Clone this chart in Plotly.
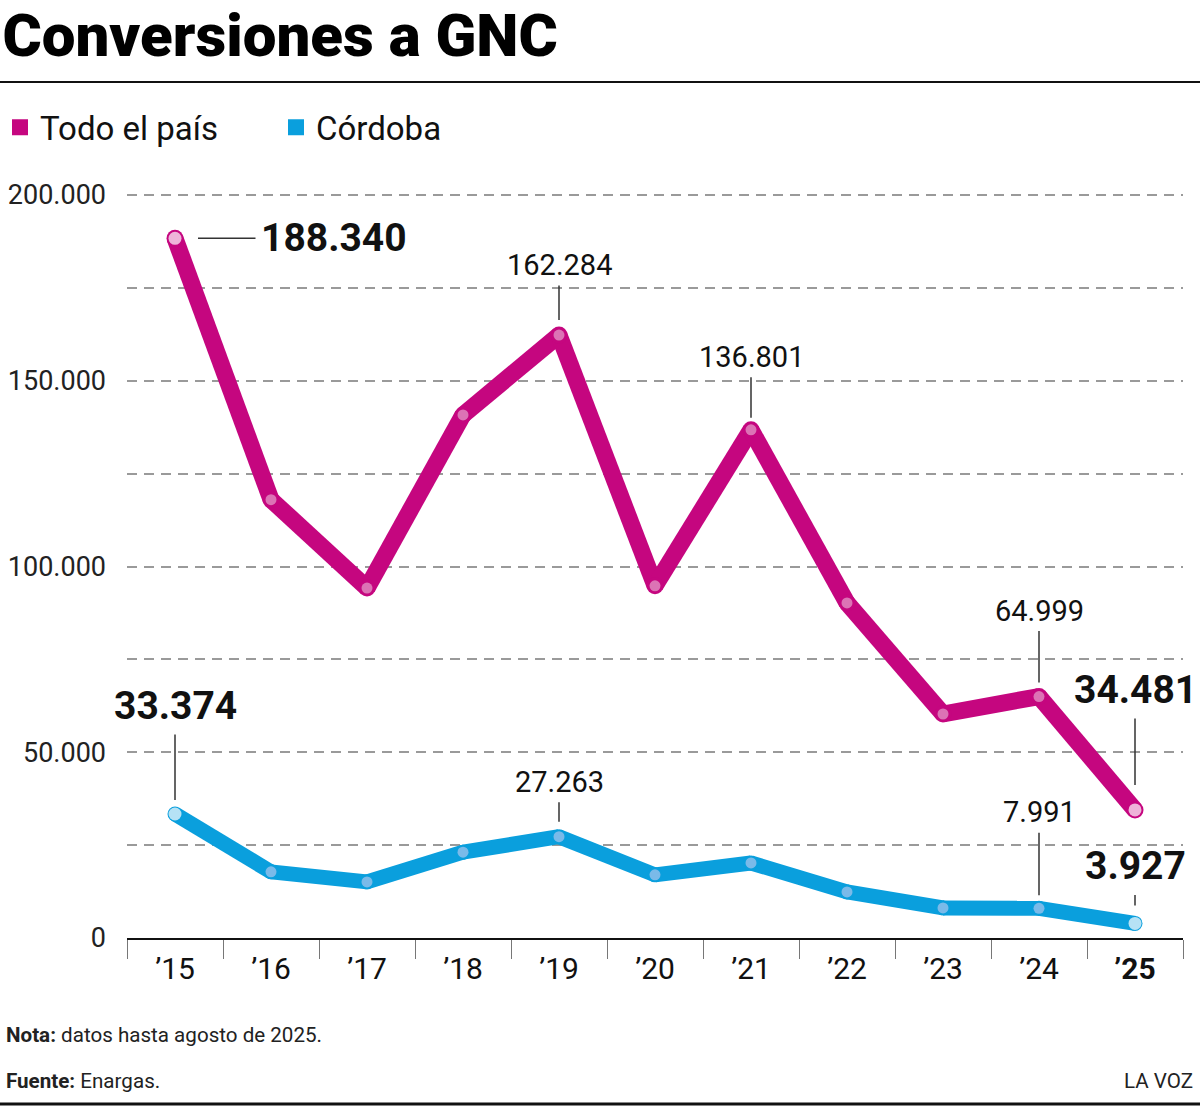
import plotly.graph_objects as go

# ---- data ----
years = ["2015", "2016", "2017", "2018", "2019", "2020", "2021", "2022", "2023", "2024", "2025"]
year_labels = ["’15", "’16", "’17", "’18", "’19", "’20", "’21", "’22", "’23", "’24", "<b>’25</b>"]
pais = [188340, 118000, 94200, 140800, 162284, 94800, 136801, 90200, 60300, 64999, 34481]
cordoba = [33374, 17800, 15100, 23100, 27263, 17000, 20200, 12400, 8100, 7991, 3927]
y_ticks = [0, 50000, 100000, 150000, 200000]

MAGENTA = "#c5067f"
CYAN = "#0a9fdd"
PINK_DOT = "#e5a2cc"
BLUE_DOT = "#a9c6ee"
FONT = "Roboto, sans-serif"

def fmt(v):
    return f"{v:,}".replace(",", ".")

fig = go.Figure()

def add_series(vals, color, dot, lw, name):
    n = len(vals)
    # segments (so that joins are rounded by the vertex discs)
    for i in range(n - 1):
        fig.add_trace(go.Scatter(x=years[i:i + 2], y=vals[i:i + 2], mode="lines",
                                 line=dict(color=color, width=lw),
                                 hoverinfo="skip", showlegend=False, cliponaxis=False))
    fig.add_trace(go.Scatter(x=years, y=vals, mode="markers",
                             marker=dict(size=lw, color=color, line=dict(width=0)),
                             hoverinfo="skip", showlegend=False, cliponaxis=False))
    colors = ["white"] + [dot] * (n - 2) + ["white"]
    sizes = [13] + [11] * (n - 2) + [13]
    fig.add_trace(go.Scatter(x=years, y=vals, mode="markers",
                             marker=dict(size=sizes, color=colors, line=dict(width=0)),
                             hoverinfo="skip", showlegend=False, cliponaxis=False))
    fig.add_trace(go.Scatter(x=[None], y=[None], mode="markers", name=name,
                             marker=dict(symbol="square", size=20, color=color)))

add_series(cordoba, CYAN, BLUE_DOT, 15, "Córdoba")
add_series(pais, MAGENTA, PINK_DOT, 17, "Todo el país")

# ---- value annotations (index, series, ax, ay, bold, standoff) ----
ann_specs = [
    (0, pais, 159, 0, True, 23),
    (4, pais, 0, -70, False, 15),
    (6, pais, 0, -73, False, 12),
    (9, pais, 0, -86, False, 14),
    (10, pais, 0, -120, True, 25),
    (0, cordoba, 0, -108, True, 14),
    (4, cordoba, 0, -55, False, 15),
    (9, cordoba, 0, -96, False, 13),
    (10, cordoba, 0, -57, True, 18),
]
annotations = []
for i, series, ax, ay, bold, so in ann_specs:
    txt = fmt(series[i])
    annotations.append(dict(
        x=i, y=series[i], xref="x", yref="y",
        text=f"<b>{txt}</b>" if bold else txt,
        showarrow=True, arrowhead=0, arrowwidth=1.5, arrowcolor="#333",
        ax=ax, ay=ay, axref="pixel", ayref="pixel", standoff=so, borderpad=5 if bold else 3,
        font=dict(family=FONT, size=39 if bold else 29, color="#111"),
    ))

# footer
annotations += [
    dict(xref="paper", yref="paper", x=-0.1165, y=-0.1299, xanchor="left", yanchor="middle",
         text="<b>Nota:</b> datos hasta agosto de 2025.", showarrow=False,
         font=dict(family=FONT, size=20.6, color="#222")),
    dict(xref="paper", yref="paper", x=-0.1165, y=-0.1914, xanchor="left", yanchor="middle",
         text="<b>Fuente:</b> Enargas.", showarrow=False,
         font=dict(family=FONT, size=20.6, color="#222")),
    dict(xref="paper", yref="paper", x=1.0115, y=-0.1914, xanchor="right", yanchor="middle",
         text="LA VOZ", showarrow=False,
         font=dict(family=FONT, size=20.6, color="#222")),
]

shapes = [
    dict(type="line", xref="paper", yref="paper", x0=-0.1203, x1=1.0166, y0=1.1459, y1=1.1459,
         line=dict(color="#111", width=2)),
    dict(type="line", xref="paper", yref="paper", x0=-0.1203, x1=1.0166, y0=-0.2222, y1=-0.2222,
         line=dict(color="#111", width=3)),
]

fig.update_layout(
    width=1200, height=1107,
    margin=dict(l=127, r=17, t=191, b=169, autoexpand=False),
    paper_bgcolor="white", plot_bgcolor="white",
    separators=",.",
    font=dict(family=FONT, color="#111"),
    title=dict(text="Conversiones a GNC", xref="container", yref="container",
               x=0.002, y=0.968, xanchor="left", yanchor="middle",
               font=dict(family=FONT, size=60, color="#000", weight=900)),
    legend=dict(orientation="h", xref="container", yref="container", x=-0.004, y=0.885,
                xanchor="left", yanchor="middle",
                font=dict(family=FONT, size=33, color="#111"),
                traceorder="reversed", entrywidth=231, entrywidthmode="pixels"),
    annotations=annotations,
    shapes=shapes,
    showlegend=True,
)

fig.update_xaxes(
    type="category", categoryorder="array", categoryarray=years,
    range=[-0.5, 10.5], tickmode="array", tickvals=years, ticktext=year_labels,
    tickson="boundaries", ticks="outside", ticklen=19, tickcolor="#777", tickwidth=1,
    showline=True, linecolor="#111", linewidth=2, showgrid=False, automargin=False,
    ticklabelstandoff=3,
    tickfont=dict(family=FONT, size=30, color="#111"),
)
fig.update_yaxes(
    range=[0, 201077], tickmode="array", tickvals=y_ticks, tickformat=",d",
    showgrid=True, gridcolor="#9a9a9a", gridwidth=1.5, griddash="10px,7px",
    minor=dict(dtick=25000, showgrid=True, gridcolor="#9a9a9a", gridwidth=1.5, griddash="10px,7px"),
    zeroline=False, showline=False, ticks="", ticklabelstandoff=20, automargin=False,
    tickfont=dict(family=FONT, size=27, color="#222"),
)

fig.write_html("out.html")
